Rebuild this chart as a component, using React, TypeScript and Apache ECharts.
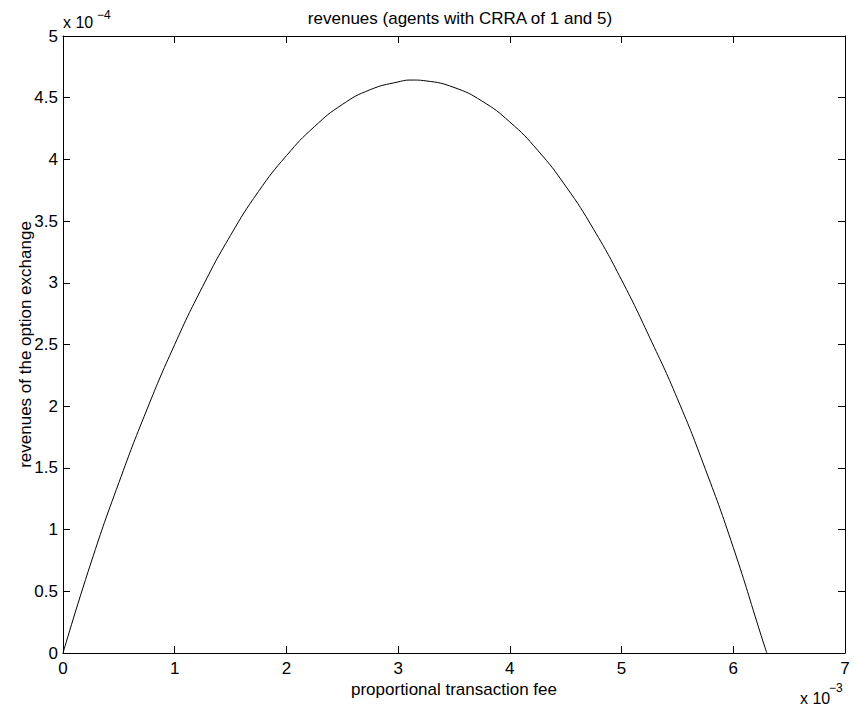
import React, { useEffect, useRef } from "react";
import * as echarts from "echarts";

// proportional transaction fee, in units of 1e-3
const feeTimes1e3 = [0, 0.25, 0.5, 0.75, 1.0, 1.25, 1.5, 1.75, 2.0, 2.25, 2.5, 2.75, 3.0, 3.125, 3.25, 3.5, 3.75, 4.0, 4.25, 4.5, 4.75, 5.0, 5.25, 5.5, 5.75, 6.0, 6.25, 6.3];
// revenues of the option exchange, in units of 1e-4
const revenueTimes1e4 = [0, 0.73, 1.38, 1.97, 2.5, 2.97, 3.385, 3.74, 4.03, 4.265, 4.445, 4.565, 4.628, 4.643, 4.636, 4.583, 4.473, 4.303, 4.073, 3.783, 3.433, 3.023, 2.56, 2.06, 1.49, 0.855, 0.14, 0];

const xTicks = { min: 0, max: 7, interval: 1 };
const yTicks = { min: 0, max: 5, interval: 0.5 };

const titleText = "revenues (agents with CRRA of 1 and 5)";
const xLabel = "proportional transaction fee";
const yLabel = "revenues of the option exchange";

export default function App() {
  const ref = useRef<HTMLDivElement>(null);
  useEffect(() => {
    if (!ref.current) return;
    const chart = echarts.init(ref.current, undefined, { renderer: "svg" });
    const font = "'Liberation Sans', Arial, Helvetica, sans-serif";
    const axisLine = { show: true, onZero: false, lineStyle: { color: "#000", width: 1 } };
    const tick = { show: true, inside: true, length: 7, lineStyle: { color: "#000", width: 1 } };
    const data = feeTimes1e3.map((x, i) => [x, revenueTimes1e4[i]]);
    chart.setOption({
      animation: false,
      backgroundColor: "#fff",
      textStyle: { fontFamily: font },
      title: {
        text: titleText,
        left: 455,
        textAlign: "center",
        top: 5,
        textStyle: { fontFamily: font, fontSize: 17, fontWeight: "normal", color: "#000" },
      },
      grid: { left: 63, right: 9, top: 36, bottom: 60, containLabel: false },
      xAxis: [
        {
          type: "value",
          position: "bottom",
          ...xTicks,
          axisLine,
          axisTick: tick,
          splitLine: { show: false },
          axisLabel: { color: "#000", fontSize: 17, fontFamily: font, margin: 7 },
          name: xLabel,
          nameLocation: "middle",
          nameGap: 28,
          nameMoveOverlap: false,
          nameTextStyle: { color: "#000", fontSize: 17, fontFamily: font },
        },
        {
          type: "value",
          position: "top",
          ...xTicks,
          axisLine,
          axisTick: tick,
          splitLine: { show: false },
          axisLabel: { show: false },
        },
      ],
      yAxis: [
        {
          type: "value",
          position: "left",
          ...yTicks,
          axisLine,
          axisTick: tick,
          splitLine: { show: false },
          axisLabel: { color: "#000", fontSize: 17, fontFamily: font, margin: 5 },
          name: yLabel,
          nameLocation: "middle",
          nameGap: 29,
          nameMoveOverlap: false,
          nameTextStyle: { color: "#000", fontSize: 17, fontFamily: font },
        },
        {
          type: "value",
          position: "right",
          ...yTicks,
          axisLine,
          axisTick: tick,
          splitLine: { show: false },
          axisLabel: { show: false },
        },
      ],
      graphic: [
        { type: "text", left: 63, top: 14, style: { text: "x 10", fontSize: 16, fontFamily: font, fill: "#000" } },
        { type: "text", left: 97, top: 9, style: { text: "\u22124", fontSize: 12, fontFamily: font, fill: "#000" } },
        { type: "text", left: 800, top: 690, style: { text: "x 10", fontSize: 16, fontFamily: font, fill: "#000" } },
        { type: "text", left: 829, top: 682, style: { text: "\u22123", fontSize: 12, fontFamily: font, fill: "#000" } },
      ],
      series: [
        {
          type: "line",
          data,
          smooth: 0.5,
          showSymbol: false,
          lineStyle: { color: "#000", width: 1 },
          xAxisIndex: 0,
          yAxisIndex: 0,
        },
      ],
    });
    return () => chart.dispose();
  }, []);
  return <div ref={ref} style={{ width: 854, height: 713, position: "absolute", left: 0, top: 0 }} />;
}
